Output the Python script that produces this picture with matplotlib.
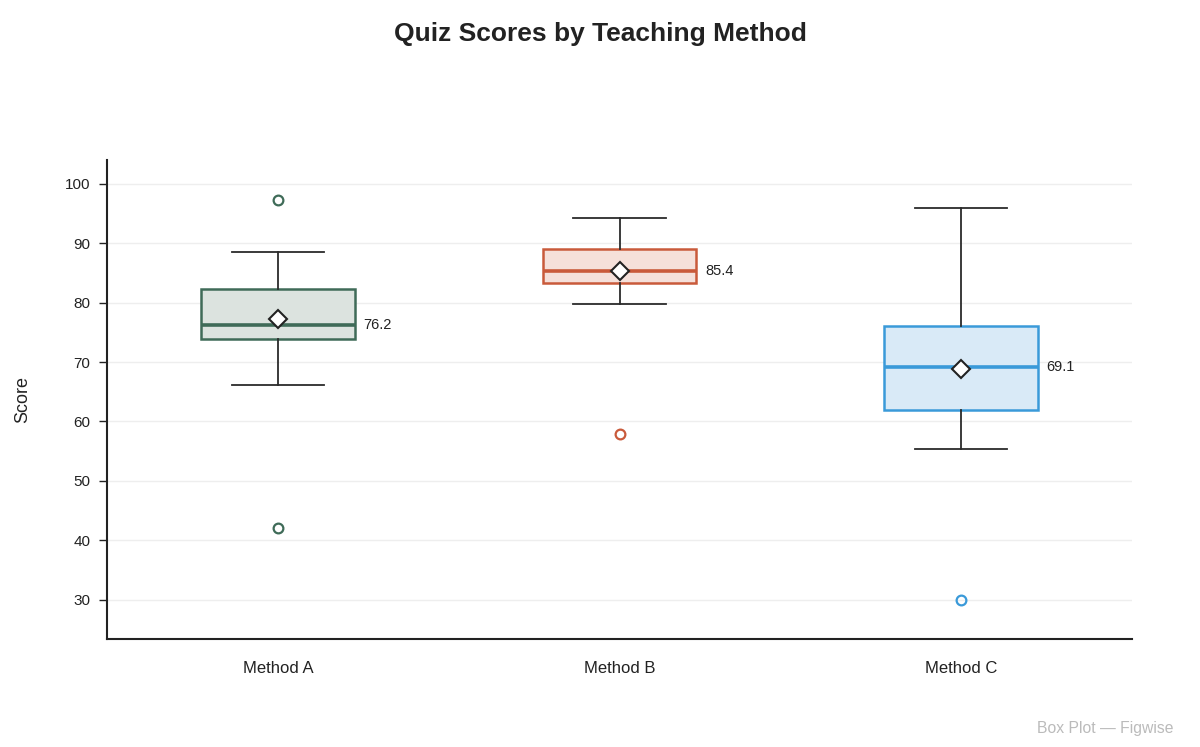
import matplotlib
matplotlib.use('Agg')
import matplotlib.pyplot as plt

plt.rcParams['font.family'] = ['Liberation Sans', 'DejaVu Sans']

# data
methods = ['Method A', 'Method B', 'Method C']
whislo = [66.2, 79.8, 55.3]
q1 = [73.9, 83.3, 62.0]
medians = [76.2, 85.4, 69.1]
q3 = [82.3, 89.1, 76.1]
whishi = [88.6, 94.3, 96.0]
means = [77.3, 85.4, 68.9]
outliers = [[97.3, 42.1], [57.9], [30.0]]

edge_colors = ['#3f6b58', '#c95a3b', '#3a9ad9']
fill_colors = ['#dce3df', '#f5e0da', '#d9eaf7']

stats = []
for i in range(len(methods)):
    stats.append(dict(label=methods[i], whislo=whislo[i], q1=q1[i], med=medians[i],
                      q3=q3[i], whishi=whishi[i], mean=means[i], fliers=outliers[i]))

fig = plt.figure(figsize=(12, 7.47), dpi=100)
ax = fig.add_axes([0.0892, 0.1446, 0.8541, 0.6412])

pos = list(range(len(methods)))
bp = ax.bxp(stats, positions=pos, widths=0.45, patch_artist=True, showmeans=True,
            meanprops=dict(marker='D', markerfacecolor='white', markeredgecolor='#222222',
                           markersize=9, markeredgewidth=1.5),
            whiskerprops=dict(color='#2b2b2b', linewidth=1.3),
            capprops=dict(color='#2b2b2b', linewidth=1.3),
            capwidths=0.27, zorder=3)

for i in range(len(methods)):
    bp['boxes'][i].set_facecolor(fill_colors[i])
    bp['boxes'][i].set_edgecolor(edge_colors[i])
    bp['boxes'][i].set_linewidth(1.8)
    bp['medians'][i].set_color(edge_colors[i])
    bp['medians'][i].set_linewidth(2.6)
    bp['fliers'][i].set_marker('o')
    bp['fliers'][i].set_markerfacecolor('none')
    bp['fliers'][i].set_markeredgecolor(edge_colors[i])
    bp['fliers'][i].set_markeredgewidth(1.6)
    bp['fliers'][i].set_markersize(7)
    ax.text(pos[i] + 0.25, medians[i], f'{medians[i]:.1f}', va='center', ha='left',
            fontsize=10.5, color='#222222')

ax.set_xlim(-0.5, 2.5)
ax.set_ylim(23.4, 104)
ax.set_yticks([30, 40, 50, 60, 70, 80, 90, 100])
ax.set_xticks(pos)
ax.set_xticklabels(methods)
ax.tick_params(axis='x', length=0, labelsize=12, colors='#222222', pad=16)
ax.tick_params(axis='y', length=6, width=1, labelsize=11, colors='#222222', pad=6)
ax.yaxis.grid(True, color='#eeeeee', linewidth=1)
ax.set_axisbelow(True)
for s in ['top', 'right']:
    ax.spines[s].set_visible(False)
for s in ['left', 'bottom']:
    ax.spines[s].set_linewidth(1.5)
    ax.spines[s].set_color('#222222')

ax.set_ylabel('Score', fontsize=13, color='#222222', labelpad=24)

fig.text(0.5, 0.955, 'Quiz Scores by Teaching Method', ha='center', va='center',
         fontsize=19, fontweight='bold', color='#222222')
fig.text(0.978, 0.025, 'Box Plot — Figwise', ha='right', va='center',
         fontsize=11.3, color='#bbbbbb')

fig.savefig('out.png', dpi=100)
